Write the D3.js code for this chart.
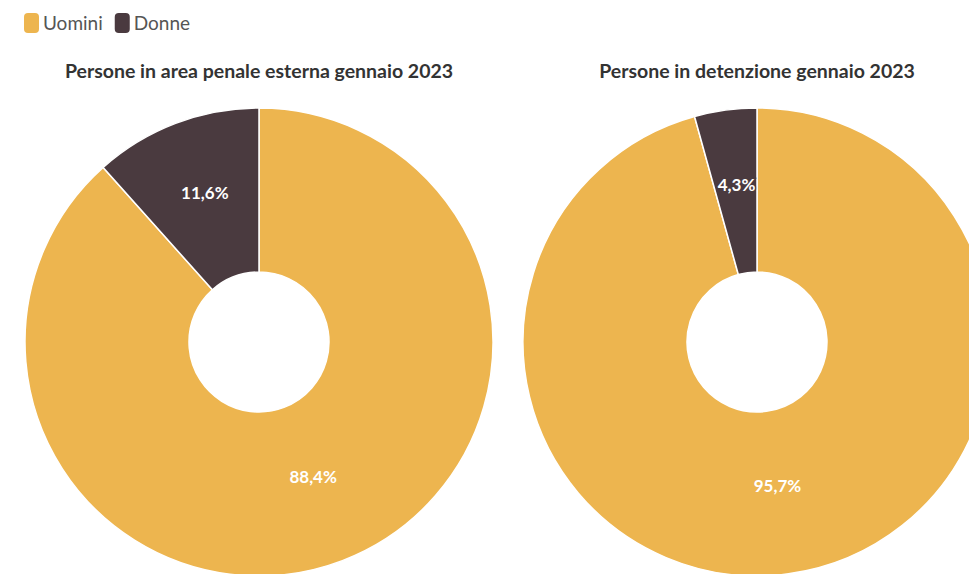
<!DOCTYPE html>
<html><head><meta charset="utf-8">
<script src="https://cdn.jsdelivr.net/npm/d3@7"></script>
<style>
html,body{margin:0;padding:0;background:#fff;}
svg{display:block;font-family:"Source Sans Pro","Lato","Open Sans",sans-serif;}
</style></head>
<body>
<svg id="c" width="969" height="574"></svg>
<script>
const categories = ["Uomini", "Donne"];
const colors = ["#EDB54F", "#4A3A3F"];
const chartTitles = ["Persone in area penale esterna gennaio 2023", "Persone in detenzione gennaio 2023"];
const seriesEsterna = [88.4, 11.6];
const seriesDetenzione = [95.7, 4.3];
const seriesList = [seriesEsterna, seriesDetenzione];

const svg = d3.select("#c");
const color = d3.scaleOrdinal().domain(categories).range(colors);
const fmt = v => d3.format(".1f")(v).replace(".", ",") + "%";

// Legend
const leg = svg.append("g").attr("transform", "translate(24,13)");
let lx = 0;
categories.forEach((c, i) => {
  const g = leg.append("g").attr("transform", `translate(${lx},0)`);
  g.append("rect").attr("width", 15).attr("height", 20).attr("rx", 4).attr("fill", color(c));
  const t = g.append("text").attr("x", 19).attr("y", 16.5).attr("font-size", 19)
    .attr("fill", "#555").text(c);
  lx += 19 + t.node().getComputedTextLength() + 12;
});

const centersX = [259, 757];
const cy = 342, rOuter = 234, rInner = 70;
const pie = d3.pie().sort(null).value(d => d.v);
const arc = d3.arc().innerRadius(rInner).outerRadius(rOuter);
const labelArc = d3.arc().innerRadius(152).outerRadius(152);

seriesList.forEach((vals, k) => {
  const data = categories.map((c, i) => ({c, v: vals[i]}));
  const g = svg.append("g").attr("transform", `translate(${centersX[k]},${cy})`);
  svg.append("text").attr("x", centersX[k]).attr("y", 78).attr("text-anchor", "middle")
    .attr("font-size", 19.5).attr("font-weight", 700).attr("fill", "#333").text(chartTitles[k]);
  const arcs = pie(data);
  g.selectAll("path").data(arcs).join("path")
    .attr("d", arc).attr("fill", d => color(d.data.c))
    .attr("stroke", "#fff").attr("stroke-width", 1.5);
  g.selectAll("text.lbl").data(arcs).join("text").attr("class", "lbl")
    .attr("transform", d => { const p = labelArc.centroid(d); return `translate(${p[0]},${p[1] - 5})`; })
    .attr("text-anchor", "middle").attr("dominant-baseline", "middle")
    .attr("font-size", 17).attr("font-weight", 700).attr("fill", "#fff")
    .attr("stroke", d => color(d.data.c)).attr("stroke-width", 2.5).attr("paint-order", "stroke")
    .text(d => fmt(d.data.v));
});
</script>
</body></html>
